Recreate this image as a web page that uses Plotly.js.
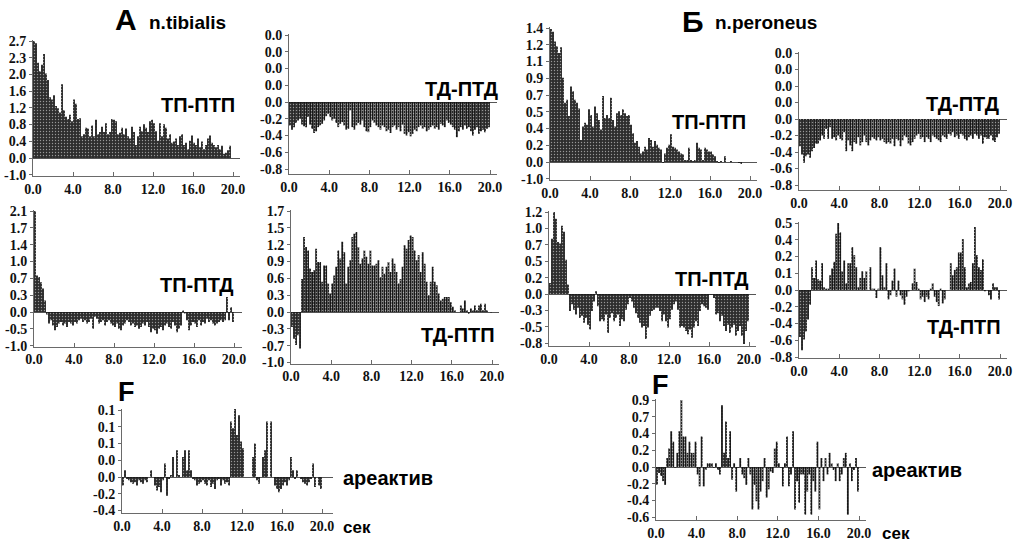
<!DOCTYPE html>
<html>
<head>
<meta charset="utf-8">
<script src="https://cdn.plot.ly/plotly-3.0.1.min.js"></script>
<style>
  html, body { margin: 0; padding: 0; background: #fff; }
  #chart { width: 1022px; height: 548px; }
</style>
</head>
<body>
<div id="chart"></div>
<script>
// Peristimulus histograms, 0.2 s bins over 20 s

// n.tibialis
const tibialisTpPtp = [
  2.70,2.65,2.20,2.00,2.15,2.40,1.95,1.80,1.40,1.35,
  1.45,1.20,1.15,1.05,1.70,1.10,0.95,0.90,1.00,0.85,
  1.35,1.25,0.90,0.92,0.50,0.55,0.70,0.68,0.50,0.75,
  0.50,0.88,0.55,0.60,0.72,0.60,0.80,0.55,0.60,0.90,
  0.88,0.85,0.55,0.58,0.70,0.55,0.68,0.50,0.45,0.72,
  0.60,0.30,0.50,0.72,0.62,0.78,0.70,0.60,0.85,0.88,
  0.80,0.62,0.40,0.80,0.50,0.78,0.70,0.45,0.55,0.35,
  0.38,0.45,0.30,0.50,0.55,0.30,0.35,0.20,0.40,0.52,
  0.35,0.30,0.45,0.25,0.38,0.20,0.30,0.45,0.52,0.35,
  0.30,0.25,0.30,0.20,0.28,0.10,0.12,0.18,0.28,0.00
];
const tibialisTdPtd = [
  -0.28,-0.33,-0.30,-0.25,-0.22,-0.20,-0.27,-0.29,-0.30,-0.18,
  -0.27,-0.32,-0.37,-0.35,-0.30,-0.28,-0.26,-0.22,-0.17,-0.14,
  -0.18,-0.22,-0.20,-0.25,-0.30,-0.26,-0.24,-0.28,-0.33,-0.32,
  -0.10,-0.30,-0.33,-0.28,-0.25,-0.27,-0.22,-0.30,-0.35,-0.36,
  -0.30,-0.22,-0.25,-0.28,-0.30,-0.33,-0.28,-0.30,-0.35,-0.33,
  -0.37,-0.30,-0.28,-0.33,-0.30,-0.35,-0.27,-0.38,-0.40,-0.36,
  -0.41,-0.38,-0.33,-0.35,-0.30,-0.28,-0.32,-0.30,-0.35,-0.33,
  -0.30,-0.28,-0.32,-0.30,-0.33,-0.26,-0.28,-0.30,-0.22,-0.25,
  -0.27,-0.30,-0.33,-0.42,-0.35,-0.30,-0.33,-0.28,-0.32,-0.30,
  -0.35,-0.40,-0.33,-0.30,-0.38,-0.35,-0.33,-0.36,-0.32,-0.30
];
const tibialisTpPtd = [
  2.10,0.76,0.73,0.62,0.49,0.24,-0.05,-0.24,-0.17,-0.28,
  -0.38,-0.31,-0.24,-0.21,-0.28,-0.24,-0.31,-0.21,-0.24,-0.28,
  -0.21,-0.24,-0.17,-0.14,-0.21,-0.17,-0.24,-0.21,-0.14,-0.35,
  -0.10,-0.14,-0.24,-0.21,-0.17,-0.28,-0.21,-0.17,-0.24,-0.28,
  -0.31,-0.24,-0.35,-0.38,-0.28,-0.24,-0.17,-0.21,-0.28,-0.24,
  -0.31,-0.28,-0.35,-0.31,-0.24,-0.28,-0.21,-0.31,-0.42,-0.35,
  -0.38,-0.45,-0.35,-0.31,-0.38,-0.28,-0.24,-0.31,-0.35,-0.21,
  -0.28,-0.42,-0.35,-0.28,0.03,-0.03,-0.17,-0.38,-0.28,-0.21,
  -0.24,-0.31,-0.17,-0.28,-0.21,-0.24,-0.14,-0.21,-0.17,-0.24,
  -0.28,-0.24,-0.21,-0.17,-0.21,-0.17,0.31,-0.17,0.10,-0.21
];
const tibialisTdPtp = [
  -0.26,-0.46,-0.57,-0.40,-0.63,0.57,1.29,1.12,1.06,0.75,
  0.69,0.72,1.09,0.86,0.86,0.52,0.80,0.80,0.49,0.32,
  0.49,0.63,0.78,1.06,0.92,1.21,1.03,0.49,0.78,0.89,
  1.29,1.35,1.38,1.12,0.83,0.92,1.06,0.95,0.83,1.06,
  0.80,0.80,0.83,0.89,0.60,0.78,0.66,0.78,0.86,0.69,
  0.92,0.83,0.69,0.49,0.57,0.78,1.15,1.09,1.24,1.32,
  1.29,1.06,0.89,0.98,0.69,1.03,0.83,0.52,0.29,0.52,
  0.78,0.52,0.46,0.32,0.20,0.23,0.26,0.26,0.26,0.17,
  0.09,0.03,0.00,0.00,0.11,0.06,0.20,0.03,-0.03,0.06,
  0.03,0.11,0.03,0.11,0.14,0.03,0.14,0.03,0.00,-0.01
];
const tibialisAreactive = [
  -0.018,0.014,-0.004,-0.007,-0.011,-0.014,-0.011,-0.018,-0.007,-0.011,
  -0.014,-0.007,-0.011,0.000,0.014,0.000,-0.018,-0.028,-0.021,-0.032,
  -0.007,0.028,-0.039,-0.004,0.004,0.042,0.000,0.056,0.004,0.000,
  0.042,0.056,0.014,0.056,0.014,-0.004,-0.007,-0.018,-0.014,-0.011,
  -0.007,-0.014,-0.018,-0.007,-0.021,-0.014,-0.025,-0.007,-0.004,-0.018,
  -0.007,-0.014,-0.011,-0.018,0.116,0.102,0.144,0.088,0.129,0.074,
  0.060,0.000,0.000,0.000,0.000,0.042,0.070,-0.007,-0.014,0.000,
  0.042,0.056,0.116,0.000,0.116,0.000,-0.018,-0.025,-0.032,-0.025,
  -0.018,-0.011,-0.018,-0.007,0.042,0.014,-0.004,0.014,0.000,-0.004,
  -0.011,-0.014,-0.018,-0.011,-0.004,0.028,-0.021,0.000,-0.018,-0.025
];

// n.peroneus
const peroneusTpPtp = [
  1.39,1.36,1.26,1.21,1.14,1.20,0.88,0.62,0.65,0.48,
  0.79,0.74,0.65,0.62,0.56,0.23,0.37,0.41,0.39,0.55,
  0.49,0.37,0.58,0.51,0.44,0.34,0.69,0.46,0.49,0.46,
  0.67,0.44,0.37,0.51,0.53,0.49,0.55,0.51,0.48,0.49,
  0.39,0.30,0.20,0.22,0.16,0.09,0.11,0.16,0.13,0.25,
  0.23,0.16,0.22,0.18,0.15,0.13,-0.01,0.09,0.15,0.18,
  0.29,0.16,0.15,0.13,0.11,0.09,0.08,0.02,0.02,0.15,
  0.02,0.01,0.02,0.20,0.15,0.13,0.02,0.15,0.13,0.11,
  0.11,0.08,0.06,0.01,-0.01,0.01,0.00,0.06,0.00,0.00,
  0.01,0.00,0.00,0.00,-0.01,-0.02,0.00,0.00,0.00,0.00
];
const peroneusTdPtd = [
  -0.33,-0.43,-0.53,-0.45,-0.43,-0.47,-0.39,-0.35,-0.30,-0.30,
  -0.26,-0.20,-0.24,-0.12,-0.24,-0.10,-0.24,-0.22,-0.26,-0.20,
  -0.24,-0.26,-0.16,-0.39,-0.26,-0.32,-0.39,-0.28,-0.30,-0.22,
  -0.32,-0.28,-0.20,-0.28,-0.32,-0.26,-0.22,-0.24,-0.26,-0.22,
  -0.26,-0.24,-0.28,-0.30,-0.28,-0.30,-0.24,-0.33,-0.24,-0.26,
  -0.33,-0.26,-0.20,-0.22,-0.30,-0.32,-0.28,-0.24,-0.20,-0.18,
  -0.24,-0.22,-0.28,-0.22,-0.24,-0.28,-0.20,-0.22,-0.24,-0.26,
  -0.28,-0.20,-0.22,-0.24,-0.18,-0.20,-0.16,-0.22,-0.20,-0.24,
  -0.18,-0.20,-0.24,-0.26,-0.22,-0.20,-0.24,-0.18,-0.20,-0.24,
  -0.20,-0.30,-0.22,-0.24,-0.24,-0.20,-0.26,-0.28,-0.22,-0.18
];
const peroneusTpPtd = [
  0.16,0.81,1.20,1.10,0.76,0.74,1.00,0.91,0.50,0.14,
  -0.25,-0.15,-0.23,-0.30,-0.20,-0.35,-0.32,-0.42,-0.35,-0.45,
  -0.52,-0.25,-0.11,0.04,-0.18,-0.40,-0.37,-0.40,-0.30,-0.57,
  -0.35,-0.28,-0.40,-0.35,-0.30,-0.47,-0.37,-0.40,-0.23,-0.15,
  -0.06,-0.11,-0.20,-0.28,-0.35,-0.42,-0.49,-0.47,-0.66,-0.49,
  -0.32,-0.25,-0.23,-0.20,-0.20,-0.25,-0.40,-0.30,-0.40,-0.49,
  -0.37,-0.23,-0.15,-0.11,-0.23,-0.49,-0.47,-0.49,-0.54,-0.59,
  -0.52,-0.64,-0.49,-0.40,-0.47,-0.25,-0.15,-0.18,-0.20,-0.23,
  -0.01,-0.01,-0.06,-0.30,-0.28,-0.40,-0.32,-0.47,-0.54,-0.45,
  -0.57,-0.49,-0.45,-0.61,-0.54,-0.47,-0.61,-0.73,-0.54,-0.40
];
const peroneusTdPtp = [
  -0.35,-0.45,-0.37,-0.31,-0.22,-0.11,0.17,0.09,0.22,0.08,
  0.07,0.20,0.02,0.01,0.01,0.11,0.16,0.21,0.42,0.50,
  0.43,0.14,0.22,0.05,0.20,0.20,0.32,0.26,0.17,0.02,
  0.09,0.14,0.09,0.14,0.00,0.17,0.01,0.01,-0.06,0.01,
  0.32,0.11,0.02,0.20,-0.07,-0.04,0.07,0.16,-0.05,0.07,
  -0.04,-0.07,-0.11,-0.05,-0.01,0.00,0.05,0.16,0.06,0.01,
  -0.07,-0.05,-0.09,-0.05,-0.07,0.01,0.05,-0.05,-0.09,-0.12,
  0.01,-0.10,-0.07,0.00,0.00,0.20,0.11,0.15,0.17,0.28,
  0.28,0.38,0.17,0.02,0.05,0.06,0.20,0.47,0.26,0.17,
  0.15,0.23,-0.01,0.00,-0.04,-0.07,0.05,0.02,0.02,-0.07
];
const peroneusAreactive = [
  -0.24,-0.08,-0.12,-0.19,-0.24,0.12,0.25,0.48,0.34,-0.01,
  0.19,0.48,0.90,0.41,0.41,0.19,0.34,0.19,0.19,0.34,
  -0.10,-0.26,0.41,-0.26,-0.04,0.05,0.05,0.05,-0.01,0.05,
  -0.04,-0.10,0.83,0.19,0.61,0.12,0.48,-0.17,0.05,-0.33,
  -0.01,0.12,-0.10,-0.15,-0.24,0.12,-0.10,-0.57,-0.24,-0.46,
  -0.57,-0.33,-0.19,0.12,-0.41,-0.30,-0.06,-0.08,0.25,0.34,
  0.05,-0.01,-0.26,0.05,0.41,-0.26,-0.10,0.48,-0.57,-0.19,
  -0.48,-0.10,-0.10,-0.64,-0.33,-0.10,-0.64,-0.19,-0.33,0.34,
  -0.57,0.12,-0.19,0.12,-0.10,0.19,0.05,-0.04,-0.19,0.05,
  -0.19,-0.10,0.12,0.19,-0.64,0.05,-0.19,-0.04,0.12,-0.33
];

// Tick labels as printed on each value axis (bottom to top)
const ticksTibTpPtp   = ['-1.0','0.0','0.4','0.8','1.2','1.6','2.0','2.3','2.7'];
const ticksTibTdPtd   = ['-0.8','-0.6','-0.4','-0.2','0.0','0.0','0.0','0.0','0.0'];
const ticksTibTpPtd   = ['-1.0','-0.5','0.0','0.3','0.7','1.0','1.4','1.7','2.1'];
const ticksTibTdPtp   = ['-1.0','-0.7','-0.3','0.0','0.3','0.6','0.9','1.2','1.5','1.7'];
const ticksTibArea    = ['-0.4','-0.2','0.0','0.0','0.1','0.1','0.1'];
const ticksPerTpPtp   = ['-1.0','0.0','0.2','0.4','0.5','0.7','0.9','1.1','1.2','1.4'];
const ticksPerTdPtd   = ['-0.8','-0.6','-0.4','-0.2','0.0','0.0','0.0','0.0','0.0'];
const ticksPerTpPtd   = ['-0.8','-0.5','-0.3','0.0','0.2','0.5','0.7','1.0','1.2'];
const ticksPerTdPtp   = ['-0.8','-0.6','-0.4','-0.2','0.0','0.1','0.2','0.4','0.5'];
const ticksPerArea    = ['-0.6','-0.4','-0.2','0.0','0.2','0.4','0.7','0.9'];

const timeTicks = [0, 4, 8, 12, 16, 20];
const timeTickText = ['0.0', '4.0', '8.0', '12.0', '16.0', '20.0'];
const binWidth = 0.2;

// ---- layout of the ten panels (pixel boxes on a 1022 x 548 page) ----
const W = 1022, H = 548;
const panels = [
  { y: tibialisTpPtp, ticks: ticksTibTpPtp, zeroIdx: 1, step: 2.7 / 7,
    box: { x0: 33, x20: 233, right: 240, top: 41, zero: 158, bottom: 175 },
    label: 'ТП-ПТП', lx: 198, ly: 105 },
  { y: tibialisTdPtd, ticks: ticksTibTdPtd, zeroIdx: 4, step: 0.2,
    box: { x0: 289, x20: 490, right: 497, top: 35, zero: 102, bottom: 174 },
    label: 'ТД-ПТД', lx: 461, ly: 89 },
  { y: peroneusTpPtp, ticks: ticksPerTpPtp, zeroIdx: 1, step: 0.175,
    box: { x0: 550, x20: 750, right: 757, top: 28, zero: 162, bottom: 179 },
    label: 'ТП-ПТП', lx: 709, ly: 122 },
  { y: peroneusTdPtd, ticks: ticksPerTdPtd, zeroIdx: 4, step: 0.2,
    box: { x0: 799, x20: 1000, right: 1007, top: 53, zero: 119, bottom: 190 },
    label: 'ТД-ПТД', lx: 962, ly: 104 },
  { y: tibialisTpPtd, ticks: ticksTibTpPtd, zeroIdx: 2, step: 0.35,
    box: { x0: 34, x20: 234, right: 242, top: 211, zero: 312, bottom: 346 },
    label: 'ТП-ПТД', lx: 197, ly: 285 },
  { y: tibialisTdPtp, ticks: ticksTibTdPtp, zeroIdx: 3, step: 0.29,
    box: { x0: 291, x20: 492, right: 499, top: 211, zero: 312, bottom: 363 },
    label: 'ТД-ПТП', lx: 458, ly: 335 },
  { y: peroneusTpPtd, ticks: ticksPerTpPtd, zeroIdx: 3, step: 0.24,
    box: { x0: 549, x20: 749, right: 756, top: 212, zero: 294, bottom: 346 },
    label: 'ТП-ПТД', lx: 712, ly: 279 },
  { y: peroneusTdPtp, ticks: ticksPerTdPtp, zeroIdx: 4, step: 0.125,
    box: { x0: 799, x20: 1000, right: 1007, top: 223, zero: 290, bottom: 358 },
    label: 'ТД-ПТП', lx: 964, ly: 327 },
  { y: tibialisAreactive, ticks: ticksTibArea, zeroIdx: 2, step: 0.035,
    box: { x0: 122, x20: 322, right: 333, top: 410, zero: 477, bottom: 513 },
    label: 'ареактив', lx: 388, ly: 478 },
  { y: peroneusAreactive, ticks: ticksPerArea, zeroIdx: 3, step: 0.225,
    box: { x0: 656, x20: 859, right: 866, top: 400, zero: 467, bottom: 520 },
    label: 'ареактив', lx: 917, ly: 470 }
];

const axisGrey = '#6a6a6a';
const tickFont = { family: 'Liberation Serif, Times New Roman, serif', size: 14, color: '#111', weight: 'bold' };
const labelFont = { family: 'Liberation Sans, Arial, sans-serif', size: 20, color: '#000', weight: 'bold' };

const traces = [];
const layout = {
  width: W, height: H,
  margin: { l: 0, r: 0, t: 0, b: 0 },
  paper_bgcolor: '#fff', plot_bgcolor: 'rgba(0,0,0,0)',
  showlegend: false,
  font: { family: 'Liberation Serif, serif' },
  annotations: []
};

panels.forEach((p, k) => {
  const n = k + 1;
  const sfx = n === 1 ? '' : String(n);
  const b = p.box;
  const pxPerStep = (b.zero - b.top) / (p.ticks.length - 1 - p.zeroIdx);
  const tickvals = p.ticks.map((_, i) => (i - p.zeroIdx) * p.step);
  // keep the lowest printed tick inside the axis
  const bottomPx = Math.max(b.bottom, b.zero + p.zeroIdx * pxPerStep + 1);
  const topPx = b.top - 1;
  const yTop = (b.zero - topPx) / pxPerStep * p.step;
  const yBottom = -(bottomPx - b.zero) / pxPerStep * p.step;
  const pxPerSec = (b.x20 - b.x0) / 20;
  const xEnd = (b.right - b.x0) / pxPerSec;
  const time = p.y.map((_, i) => binWidth * (i + 0.5));

  traces.push({
    type: 'bar', x: time, y: p.y,
    xaxis: 'x' + sfx, yaxis: 'y' + sfx,
    width: binWidth * 0.9,
    marker: {
      color: '#1a1a1a',
      line: { width: 0 },
      pattern: { shape: '.', fgcolor: '#8c8c8c', bgcolor: '#161616', size: 3, solidity: 0.16 }
    },
    hoverinfo: 'skip'
  });

  layout['xaxis' + sfx] = {
    domain: [b.x0 / W, b.right / W], range: [0, xEnd],
    anchor: 'y' + sfx,
    showgrid: false, zeroline: false,
    showline: true, linecolor: axisGrey, linewidth: 1,
    ticks: 'inside', ticklen: 4, tickcolor: axisGrey,
    tickmode: 'array', tickvals: timeTicks, ticktext: timeTickText,
    tickfont: tickFont, fixedrange: true
  };
  layout['yaxis' + sfx] = {
    domain: [1 - bottomPx / H, 1 - topPx / H],
    range: [yBottom, yTop],
    anchor: 'x' + sfx,
    showgrid: false,
    zeroline: true, zerolinecolor: '#555', zerolinewidth: 1,
    showline: true, linecolor: axisGrey, linewidth: 1,
    ticks: 'outside', ticklen: 3, tickcolor: axisGrey,
    tickmode: 'array', tickvals: tickvals, ticktext: p.ticks,
    tickfont: tickFont, fixedrange: true
  };

  layout.annotations.push({
    text: p.label, xref: 'paper', yref: 'paper',
    x: p.lx / W, y: 1 - p.ly / H, xanchor: 'center', yanchor: 'middle',
    showarrow: false, font: labelFont
  });
});

// Panel group headings and units
const heading = (text, x, y, size, anchor) => ({
  text: text, xref: 'paper', yref: 'paper', x: x / W, y: 1 - y / H,
  xanchor: anchor || 'center', yanchor: 'middle', showarrow: false,
  font: { family: 'Liberation Sans, Arial, sans-serif', size: size, color: '#000', weight: 'bold' }
});
layout.annotations.push(
  heading('A', 126, 20, 30),
  heading('n.tibialis', 147, 22, 19, 'left'),
  heading('Б', 693, 21, 30),
  heading('n.peroneus', 713, 22, 19, 'left'),
  heading('F', 126, 392, 27),
  heading('F', 660, 385, 27),
  heading('сек', 357, 527, 17),
  heading('сек', 896, 533, 17)
);

Plotly.newPlot('chart', traces, layout, { staticPlot: true, displayModeBar: false });
</script>
</body>
</html>
